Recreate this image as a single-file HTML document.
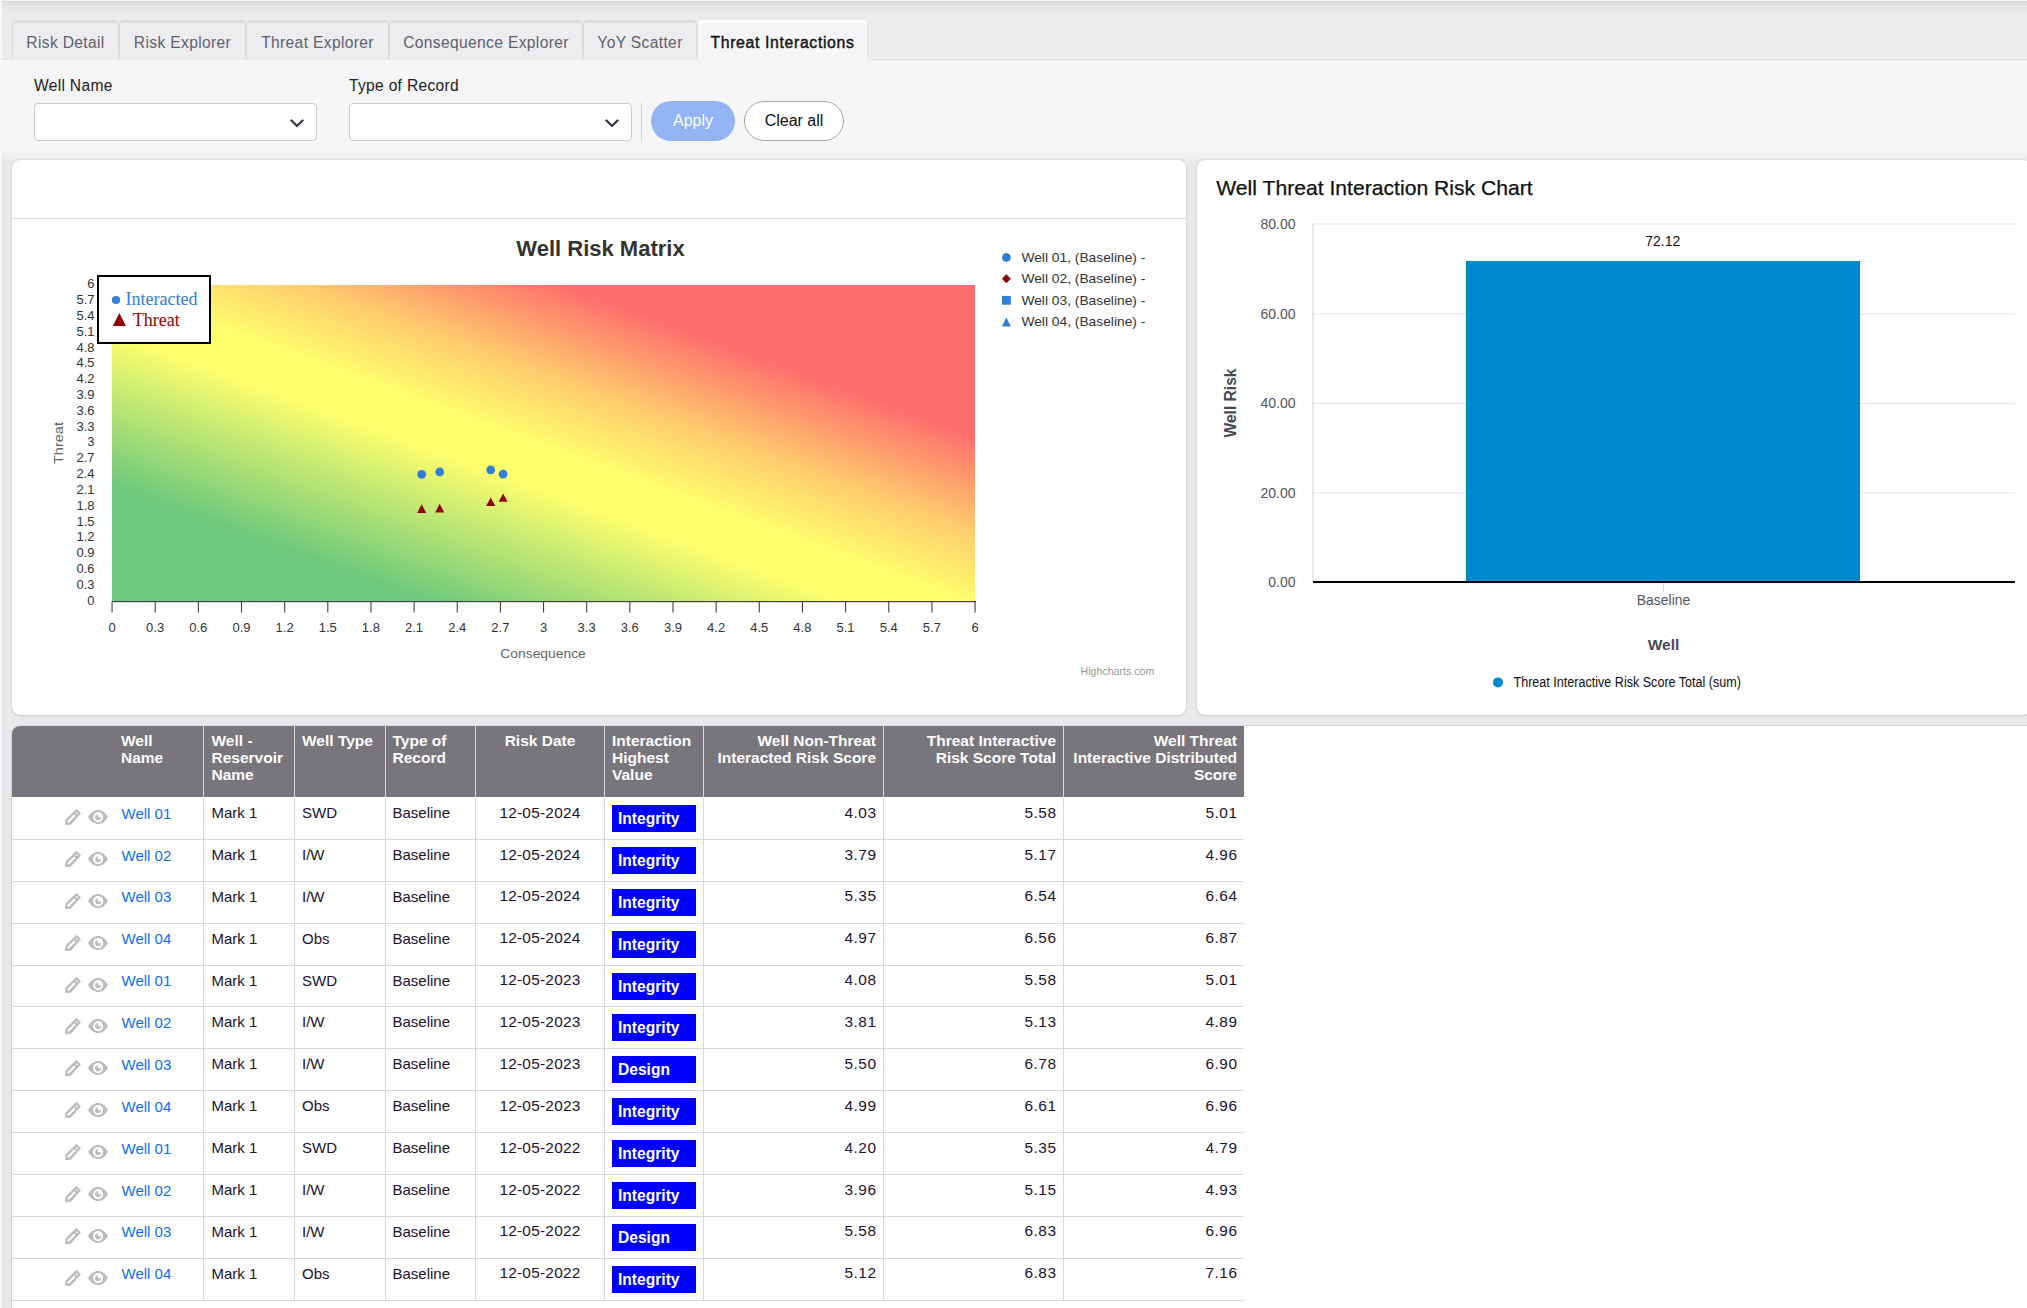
<!DOCTYPE html>
<html><head><meta charset="utf-8">
<style>
*{box-sizing:border-box;margin:0;padding:0}
html,body{width:2027px;height:1308px;overflow:hidden;background:#f7f7f9;font-family:"Liberation Sans",sans-serif;}
#app{position:absolute;left:2px;top:1px;width:2025px;height:1307px;background:linear-gradient(to right,#e2e2e5 0,#eaeaec 3px,#e9e9eb 10px);overflow:hidden}
#tabbar{position:absolute;left:0;top:0;width:2025px;height:59px;background:linear-gradient(#dbdbde 0,#e6e6e8 5px,#ebebed 14px,#ececee 59px);border-bottom:1px solid #d6d6d9}
.tab{position:absolute;top:19px;height:40px;border:1px solid #d9d9dc;border-top:3px solid #dddcdf;border-bottom:none;border-radius:5px 5px 0 0;background:#ededef;color:#615e71;font-size:15.6px;letter-spacing:.35px;line-height:39px;text-align:center;white-space:nowrap;background:linear-gradient(#ededef 0,#ededef 30px,#e6e6e9 37px)}
.tab.active{background:#f6f6f8;font-size:15.8px;letter-spacing:.65px;-webkit-text-stroke:.4px #111;border-color:#fff #e3e3e6 #f6f6f8;color:#111;height:41px;line-height:40px}
#filter{position:absolute;left:0;top:59px;width:2025px;height:92px;background:#f6f6f8;box-shadow:0 2px 8px 2px #f6f6f8}
.lbl{position:absolute;font-size:15.6px;letter-spacing:.3px;color:#222;white-space:nowrap}
.sel{position:absolute;top:43px;width:283px;height:38px;border:1px solid #cbcbd1;border-radius:4px;background:#fff}
.sel svg{position:absolute;right:12px;top:15px}
.btn{position:absolute;top:41px;height:40px;border-radius:20px;font-size:16px;line-height:38px;text-align:center}
.panel{position:absolute;background:#fff;border-radius:8px;box-shadow:0 0 2px rgba(0,0,0,.16),0 1px 2px rgba(0,0,0,.10)}

.thead{position:relative;background:#78757d;border-radius:8px 0 0 0}
.th{position:absolute;top:6px;color:#fff;font-weight:bold;font-size:15.5px;line-height:17px;white-space:nowrap}
.vb{position:absolute;top:0;width:1px;height:72px;background:#d9d9dc}
.tr{position:relative;height:41.89px;border-bottom:1px solid #d9d9dc;width:1232px}
.sp{height:1px}
.vb2{position:absolute;top:0;width:1px;height:42px;background:#d9d9dc}
.td{position:absolute;top:6px;font-size:15px;line-height:18px;color:#1c1230;white-space:nowrap}
.num{font-size:15.4px;top:5.7px;letter-spacing:.55px;margin-right:-.55px}
.dt{font-size:15.4px;top:5.7px;letter-spacing:.25px}
.lk{color:#0d6efd;top:6.7px}
.ic{position:absolute}
.bd{position:absolute;left:600px;top:7px;width:84px;height:27px;background:#0000ff;color:#fff;font-weight:bold;font-size:15.6px;line-height:28px;padding-left:6px}
</style></head><body>
<div id="app">
<div id="tabbar">
<div class="tab" style="left:10px;width:107px">Risk Detail</div>
<div class="tab" style="left:117px;width:127px">Risk Explorer</div>
<div class="tab" style="left:244px;width:143px">Threat Explorer</div>
<div class="tab" style="left:387px;width:194px">Consequence Explorer</div>
<div class="tab" style="left:581px;width:114px">YoY Scatter</div>
<div class="tab active" style="left:695px;width:171px">Threat Interactions</div>
</div>
<div id="filter">
<div class="lbl" style="left:32px;top:17px">Well Name</div>
<div class="sel" style="left:32px"><svg width="14" height="9" viewBox="0 0 14 9"><path d="M1.5 1.5 L7 7 L12.5 1.5" fill="none" stroke="#3b3944" stroke-width="2.4" stroke-linecap="round" stroke-linejoin="round"/></svg></div>
<div class="lbl" style="left:347px;top:17px">Type of Record</div>
<div class="sel" style="left:347px"><svg width="14" height="9" viewBox="0 0 14 9"><path d="M1.5 1.5 L7 7 L12.5 1.5" fill="none" stroke="#3b3944" stroke-width="2.4" stroke-linecap="round" stroke-linejoin="round"/></svg></div>
<div style="position:absolute;left:639px;top:43px;width:1px;height:38px;background:#d0d0d4"></div>
<div class="btn" style="left:649px;width:84px;background:#93b4f4;color:#fff;line-height:40px">Apply</div>
<div class="btn" style="left:742px;width:100px;background:#fff;border:1px solid #a8a8ae;color:#111;line-height:38px">Clear all</div>
</div>
<div class="panel" style="left:10px;top:159px;width:1174px;height:555px">
<div style="position:absolute;left:0;top:58px;width:1174px;height:1px;background:#dcdce0"></div>
<svg width="1174" height="555" viewBox="0 0 1174 555" style="position:absolute;left:0;top:0;font-family:'Liberation Sans',sans-serif">
<defs><linearGradient id="rg" x1="0" y1="1" x2="1" y2="0"><stop offset="0" stop-color="#6ec87d"/><stop offset="0.183" stop-color="#6ec87d"/><stop offset="0.428" stop-color="#ffff6e"/><stop offset="0.49" stop-color="#ffff6e"/><stop offset="0.61" stop-color="#ffcc6e"/><stop offset="0.76" stop-color="#ff6e6e"/><stop offset="1" stop-color="#ff6e6e"/></linearGradient></defs>
<rect x="100" y="125" width="863" height="316.5" fill="url(#rg)"/>
<text x="588.5" y="96" text-anchor="middle" font-size="22" font-weight="bold" fill="#333">Well Risk Matrix</text>
<rect x="100" y="441" width="864" height="1.2" fill="#444"/>
<rect x="99.50" y="442" width="1.1" height="10.5" fill="#444"/>
<text x="100.00" y="471.5" text-anchor="middle" font-size="13" fill="#333">0</text>
<text x="82.5" y="444.70" text-anchor="end" font-size="13" fill="#333">0</text>
<rect x="142.65" y="442" width="1.1" height="10.5" fill="#444"/>
<text x="143.15" y="471.5" text-anchor="middle" font-size="13" fill="#333">0.3</text>
<text x="82.5" y="428.87" text-anchor="end" font-size="13" fill="#333">0.3</text>
<rect x="185.80" y="442" width="1.1" height="10.5" fill="#444"/>
<text x="186.30" y="471.5" text-anchor="middle" font-size="13" fill="#333">0.6</text>
<text x="82.5" y="413.05" text-anchor="end" font-size="13" fill="#333">0.6</text>
<rect x="228.95" y="442" width="1.1" height="10.5" fill="#444"/>
<text x="229.45" y="471.5" text-anchor="middle" font-size="13" fill="#333">0.9</text>
<text x="82.5" y="397.22" text-anchor="end" font-size="13" fill="#333">0.9</text>
<rect x="272.10" y="442" width="1.1" height="10.5" fill="#444"/>
<text x="272.60" y="471.5" text-anchor="middle" font-size="13" fill="#333">1.2</text>
<text x="82.5" y="381.40" text-anchor="end" font-size="13" fill="#333">1.2</text>
<rect x="315.25" y="442" width="1.1" height="10.5" fill="#444"/>
<text x="315.75" y="471.5" text-anchor="middle" font-size="13" fill="#333">1.5</text>
<text x="82.5" y="365.58" text-anchor="end" font-size="13" fill="#333">1.5</text>
<rect x="358.40" y="442" width="1.1" height="10.5" fill="#444"/>
<text x="358.90" y="471.5" text-anchor="middle" font-size="13" fill="#333">1.8</text>
<text x="82.5" y="349.75" text-anchor="end" font-size="13" fill="#333">1.8</text>
<rect x="401.55" y="442" width="1.1" height="10.5" fill="#444"/>
<text x="402.05" y="471.5" text-anchor="middle" font-size="13" fill="#333">2.1</text>
<text x="82.5" y="333.93" text-anchor="end" font-size="13" fill="#333">2.1</text>
<rect x="444.70" y="442" width="1.1" height="10.5" fill="#444"/>
<text x="445.20" y="471.5" text-anchor="middle" font-size="13" fill="#333">2.4</text>
<text x="82.5" y="318.10" text-anchor="end" font-size="13" fill="#333">2.4</text>
<rect x="487.85" y="442" width="1.1" height="10.5" fill="#444"/>
<text x="488.35" y="471.5" text-anchor="middle" font-size="13" fill="#333">2.7</text>
<text x="82.5" y="302.27" text-anchor="end" font-size="13" fill="#333">2.7</text>
<rect x="531.00" y="442" width="1.1" height="10.5" fill="#444"/>
<text x="531.50" y="471.5" text-anchor="middle" font-size="13" fill="#333">3</text>
<text x="82.5" y="286.45" text-anchor="end" font-size="13" fill="#333">3</text>
<rect x="574.15" y="442" width="1.1" height="10.5" fill="#444"/>
<text x="574.65" y="471.5" text-anchor="middle" font-size="13" fill="#333">3.3</text>
<text x="82.5" y="270.63" text-anchor="end" font-size="13" fill="#333">3.3</text>
<rect x="617.30" y="442" width="1.1" height="10.5" fill="#444"/>
<text x="617.80" y="471.5" text-anchor="middle" font-size="13" fill="#333">3.6</text>
<text x="82.5" y="254.80" text-anchor="end" font-size="13" fill="#333">3.6</text>
<rect x="660.45" y="442" width="1.1" height="10.5" fill="#444"/>
<text x="660.95" y="471.5" text-anchor="middle" font-size="13" fill="#333">3.9</text>
<text x="82.5" y="238.97" text-anchor="end" font-size="13" fill="#333">3.9</text>
<rect x="703.60" y="442" width="1.1" height="10.5" fill="#444"/>
<text x="704.10" y="471.5" text-anchor="middle" font-size="13" fill="#333">4.2</text>
<text x="82.5" y="223.15" text-anchor="end" font-size="13" fill="#333">4.2</text>
<rect x="746.75" y="442" width="1.1" height="10.5" fill="#444"/>
<text x="747.25" y="471.5" text-anchor="middle" font-size="13" fill="#333">4.5</text>
<text x="82.5" y="207.32" text-anchor="end" font-size="13" fill="#333">4.5</text>
<rect x="789.90" y="442" width="1.1" height="10.5" fill="#444"/>
<text x="790.40" y="471.5" text-anchor="middle" font-size="13" fill="#333">4.8</text>
<text x="82.5" y="191.50" text-anchor="end" font-size="13" fill="#333">4.8</text>
<rect x="833.05" y="442" width="1.1" height="10.5" fill="#444"/>
<text x="833.55" y="471.5" text-anchor="middle" font-size="13" fill="#333">5.1</text>
<text x="82.5" y="175.68" text-anchor="end" font-size="13" fill="#333">5.1</text>
<rect x="876.20" y="442" width="1.1" height="10.5" fill="#444"/>
<text x="876.70" y="471.5" text-anchor="middle" font-size="13" fill="#333">5.4</text>
<text x="82.5" y="159.85" text-anchor="end" font-size="13" fill="#333">5.4</text>
<rect x="919.35" y="442" width="1.1" height="10.5" fill="#444"/>
<text x="919.85" y="471.5" text-anchor="middle" font-size="13" fill="#333">5.7</text>
<text x="82.5" y="144.02" text-anchor="end" font-size="13" fill="#333">5.7</text>
<rect x="962.50" y="442" width="1.1" height="10.5" fill="#444"/>
<text x="963.00" y="471.5" text-anchor="middle" font-size="13" fill="#333">6</text>
<text x="82.5" y="128.20" text-anchor="end" font-size="13" fill="#333">6</text>
<text x="488.3" y="497.7" font-size="13.5" fill="#666" textLength="85.5" lengthAdjust="spacingAndGlyphs">Consequence</text>
<text transform="translate(50.8,304) rotate(-90)" font-size="13.5" fill="#666" textLength="42" lengthAdjust="spacingAndGlyphs">Threat</text>
<circle cx="409.7" cy="314.3" r="4.4" fill="#2f7ed8"/>
<circle cx="427.7" cy="312" r="4.4" fill="#2f7ed8"/>
<circle cx="478.7" cy="309.8" r="4.4" fill="#2f7ed8"/>
<circle cx="491.1" cy="314.2" r="4.4" fill="#2f7ed8"/>
<path d="M409.7 344.3 L414.2 353 L405.2 353 Z" fill="#910000"/>
<path d="M427.7 343.8 L432.2 352.4 L423.2 352.4 Z" fill="#910000"/>
<path d="M478.7 337.6 L483.2 346 L474.2 346 Z" fill="#910000"/>
<path d="M491.1 333.4 L495.6 341.8 L486.6 341.8 Z" fill="#910000"/>
<circle cx="994.4" cy="97.5" r="4.4" fill="#2f7ed8"/>
<path d="M994.4 114.3 L998.9 118.8 L994.4 123.3 L989.9 118.8 Z" fill="#910000"/>
<rect x="990.0" y="135.9" width="8.8" height="8.8" fill="#2f7ed8"/>
<path d="M994.4 157.5 L998.9 166.5 L989.9 166.5 Z" fill="#2f7ed8"/>
<text x="1009.4" y="101.80" font-size="13.3" fill="#333" textLength="124" lengthAdjust="spacingAndGlyphs">Well 01, (Baseline) -</text>
<text x="1009.4" y="123.10" font-size="13.3" fill="#333" textLength="124" lengthAdjust="spacingAndGlyphs">Well 02, (Baseline) -</text>
<text x="1009.4" y="144.60" font-size="13.3" fill="#333" textLength="124" lengthAdjust="spacingAndGlyphs">Well 03, (Baseline) -</text>
<text x="1009.4" y="166.30" font-size="13.3" fill="#333" textLength="124" lengthAdjust="spacingAndGlyphs">Well 04, (Baseline) -</text>
<text x="1068.6" y="514.9" font-size="10.5" fill="#999" textLength="73.7" lengthAdjust="spacingAndGlyphs">Highcharts.com</text>
<rect x="86" y="116" width="112" height="67" fill="#fff" stroke="#000" stroke-width="2"/>
<circle cx="104" cy="140" r="4.1" fill="#2f7ed8"/>
<text x="113.5" y="145" font-size="18" font-family="'Liberation Serif',serif" fill="#2f7ed8">Interacted</text>
<path d="M107.4 153.1 L113.9 166 L100.9 166 Z" fill="#910000"/>
<text x="120.8" y="165.8" font-size="18" font-family="'Liberation Serif',serif" fill="#910000">Threat</text>
</svg></div>
<div class="panel" style="left:1195px;top:159px;width:834px;height:555px">
<svg width="834" height="555" viewBox="0 0 834 555" style="position:absolute;left:0;top:0;font-family:'Liberation Sans',sans-serif">
<text x="19.3" y="35.2" font-size="20.3" fill="#111" stroke="#111" stroke-width="0.25" textLength="316.4" lengthAdjust="spacingAndGlyphs">Well Threat Interaction Risk Chart</text>
<rect x="116" y="63.5" width="702" height="1" fill="#e3e3e6"/>
<rect x="116" y="153.5" width="702" height="1" fill="#e3e3e6"/>
<rect x="116" y="243.0" width="702" height="1" fill="#e3e3e6"/>
<rect x="116" y="332.5" width="702" height="1" fill="#e3e3e6"/>
<rect x="115.5" y="64" width="1" height="358" fill="#d4d4d8"/>
<text x="98.5" y="68.80" text-anchor="end" font-size="14" fill="#55555f">80.00</text>
<text x="98.5" y="158.80" text-anchor="end" font-size="14" fill="#55555f">60.00</text>
<text x="98.5" y="248.30" text-anchor="end" font-size="14" fill="#55555f">40.00</text>
<text x="98.5" y="337.80" text-anchor="end" font-size="14" fill="#55555f">20.00</text>
<text x="98.5" y="426.80" text-anchor="end" font-size="14" fill="#55555f">0.00</text>
<rect x="269" y="101" width="394" height="321" fill="#0088ce"/>
<rect x="116" y="421" width="702" height="2" fill="#000"/>
<rect x="466" y="423" width="1" height="9" fill="#d5daee"/>
<text x="465.7" y="86" text-anchor="middle" font-size="14" fill="#111">72.12</text>
<text x="466.5" y="444.8" text-anchor="middle" font-size="14" fill="#55555f">Baseline</text>
<text x="466.5" y="489.5" text-anchor="middle" font-size="15.5" font-weight="bold" fill="#4a4a55">Well</text>
<text transform="translate(38.5,243) rotate(-90)" text-anchor="middle" font-size="15.6" font-weight="bold" fill="#4a4a55">Well Risk</text>
<circle cx="301" cy="522.4" r="5" fill="#0088ce"/>
<text x="316.5" y="527.2" font-size="14" fill="#111" textLength="227.5" lengthAdjust="spacingAndGlyphs">Threat Interactive Risk Score Total (sum)</text>
</svg></div>
<div id="tblwrap" style="position:absolute;left:9px;top:724px;width:2025px;height:600px;background:#fff;border-top:1px solid #dcdcdf;border-left:1px solid #d4d4d8;border-radius:9px 0 0 0"></div>
<div id="tbl" style="position:absolute;left:10px;top:725px;width:1232px">
<div class="thead" style="height:71px;width:1232px">
<div class="th" style="left:109px;text-align:left">Well<br>Name</div>
<div class="th" style="left:199.5px;text-align:left">Well -<br>Reservoir<br>Name</div>
<div class="th" style="left:290px;text-align:left">Well Type</div>
<div class="th" style="left:380.5px;text-align:left">Type of<br>Record</div>
<div class="th" style="left:468px;width:120px;text-align:center">Risk Date</div>
<div class="th" style="left:600px;text-align:left">Interaction<br>Highest<br>Value</div>
<div class="th" style="right:368px;text-align:right">Well Non-Threat<br>Interacted Risk Score</div>
<div class="th" style="right:188px;text-align:right">Threat Interactive<br>Risk Score Total</div>
<div class="th" style="right:7px;text-align:right">Well Threat<br>Interactive Distributed<br>Score</div>
<div class="vb" style="left:191px"></div>
<div class="vb" style="left:282px"></div>
<div class="vb" style="left:373px"></div>
<div class="vb" style="left:463px"></div>
<div class="vb" style="left:592px"></div>
<div class="vb" style="left:691px"></div>
<div class="vb" style="left:871px"></div>
<div class="vb" style="left:1051px"></div>
</div><div class="sp"></div>
<div class="tr"><svg class="ic" style="left:53px;top:11px" width="16" height="16" viewBox="0 0 16 16"><path d="M11.4 1.1 L14.7 4.4 L5.2 14.7 L1 15.1 L1.4 11.1 Z" fill="#bcbbc0" stroke="#bcbbc0" stroke-width="2" stroke-linejoin="round"/><path d="M3.5 12.5 L9.3 6.7" stroke="#fff" stroke-width="2.2" stroke-linecap="round" fill="none"/><path d="M11.9 3.1 L13 4.2 L11.9 5.3 L10.8 4.2 Z" fill="#fff"/><path d="M0.6 15.5 L1 12.2 L3.9 15.1 Z" fill="#bcbbc0"/></svg><svg class="ic" style="left:76px;top:12px" width="20" height="14" viewBox="0 0 20 14"><path d="M0 7 C3 2 6.5 0 10 0 C13.5 0 17 2 20 7 C17 12 13.5 14 10 14 C6.5 14 3 12 0 7 Z" fill="#bcbbc0"/><circle cx="10.1" cy="7.1" r="5.1" fill="#fff"/><circle cx="10.1" cy="7.3" r="2.95" fill="#bcbbc0"/><circle cx="11.5" cy="5.5" r="1.9" fill="#fff"/></svg><a class="td lk" style="left:109.5px">Well 01</a><div class="td" style="left:199.5px">Mark 1</div><div class="td" style="left:290px">SWD</div><div class="td" style="left:380.5px">Baseline</div><div class="td dt" style="left:468px;width:120px;text-align:center">12-05-2024</div><div class="bd">Integrity</div><div class="td num" style="right:368px">4.03</div><div class="td num" style="right:188px">5.58</div><div class="td num" style="right:7px">5.01</div><div class="vb2" style="left:191px"></div><div class="vb2" style="left:282px"></div><div class="vb2" style="left:373px"></div><div class="vb2" style="left:463px"></div><div class="vb2" style="left:592px"></div><div class="vb2" style="left:691px"></div><div class="vb2" style="left:871px"></div><div class="vb2" style="left:1051px"></div></div>
<div class="tr"><svg class="ic" style="left:53px;top:11px" width="16" height="16" viewBox="0 0 16 16"><path d="M11.4 1.1 L14.7 4.4 L5.2 14.7 L1 15.1 L1.4 11.1 Z" fill="#bcbbc0" stroke="#bcbbc0" stroke-width="2" stroke-linejoin="round"/><path d="M3.5 12.5 L9.3 6.7" stroke="#fff" stroke-width="2.2" stroke-linecap="round" fill="none"/><path d="M11.9 3.1 L13 4.2 L11.9 5.3 L10.8 4.2 Z" fill="#fff"/><path d="M0.6 15.5 L1 12.2 L3.9 15.1 Z" fill="#bcbbc0"/></svg><svg class="ic" style="left:76px;top:12px" width="20" height="14" viewBox="0 0 20 14"><path d="M0 7 C3 2 6.5 0 10 0 C13.5 0 17 2 20 7 C17 12 13.5 14 10 14 C6.5 14 3 12 0 7 Z" fill="#bcbbc0"/><circle cx="10.1" cy="7.1" r="5.1" fill="#fff"/><circle cx="10.1" cy="7.3" r="2.95" fill="#bcbbc0"/><circle cx="11.5" cy="5.5" r="1.9" fill="#fff"/></svg><a class="td lk" style="left:109.5px">Well 02</a><div class="td" style="left:199.5px">Mark 1</div><div class="td" style="left:290px">I/W</div><div class="td" style="left:380.5px">Baseline</div><div class="td dt" style="left:468px;width:120px;text-align:center">12-05-2024</div><div class="bd">Integrity</div><div class="td num" style="right:368px">3.79</div><div class="td num" style="right:188px">5.17</div><div class="td num" style="right:7px">4.96</div><div class="vb2" style="left:191px"></div><div class="vb2" style="left:282px"></div><div class="vb2" style="left:373px"></div><div class="vb2" style="left:463px"></div><div class="vb2" style="left:592px"></div><div class="vb2" style="left:691px"></div><div class="vb2" style="left:871px"></div><div class="vb2" style="left:1051px"></div></div>
<div class="tr"><svg class="ic" style="left:53px;top:11px" width="16" height="16" viewBox="0 0 16 16"><path d="M11.4 1.1 L14.7 4.4 L5.2 14.7 L1 15.1 L1.4 11.1 Z" fill="#bcbbc0" stroke="#bcbbc0" stroke-width="2" stroke-linejoin="round"/><path d="M3.5 12.5 L9.3 6.7" stroke="#fff" stroke-width="2.2" stroke-linecap="round" fill="none"/><path d="M11.9 3.1 L13 4.2 L11.9 5.3 L10.8 4.2 Z" fill="#fff"/><path d="M0.6 15.5 L1 12.2 L3.9 15.1 Z" fill="#bcbbc0"/></svg><svg class="ic" style="left:76px;top:12px" width="20" height="14" viewBox="0 0 20 14"><path d="M0 7 C3 2 6.5 0 10 0 C13.5 0 17 2 20 7 C17 12 13.5 14 10 14 C6.5 14 3 12 0 7 Z" fill="#bcbbc0"/><circle cx="10.1" cy="7.1" r="5.1" fill="#fff"/><circle cx="10.1" cy="7.3" r="2.95" fill="#bcbbc0"/><circle cx="11.5" cy="5.5" r="1.9" fill="#fff"/></svg><a class="td lk" style="left:109.5px">Well 03</a><div class="td" style="left:199.5px">Mark 1</div><div class="td" style="left:290px">I/W</div><div class="td" style="left:380.5px">Baseline</div><div class="td dt" style="left:468px;width:120px;text-align:center">12-05-2024</div><div class="bd">Integrity</div><div class="td num" style="right:368px">5.35</div><div class="td num" style="right:188px">6.54</div><div class="td num" style="right:7px">6.64</div><div class="vb2" style="left:191px"></div><div class="vb2" style="left:282px"></div><div class="vb2" style="left:373px"></div><div class="vb2" style="left:463px"></div><div class="vb2" style="left:592px"></div><div class="vb2" style="left:691px"></div><div class="vb2" style="left:871px"></div><div class="vb2" style="left:1051px"></div></div>
<div class="tr"><svg class="ic" style="left:53px;top:11px" width="16" height="16" viewBox="0 0 16 16"><path d="M11.4 1.1 L14.7 4.4 L5.2 14.7 L1 15.1 L1.4 11.1 Z" fill="#bcbbc0" stroke="#bcbbc0" stroke-width="2" stroke-linejoin="round"/><path d="M3.5 12.5 L9.3 6.7" stroke="#fff" stroke-width="2.2" stroke-linecap="round" fill="none"/><path d="M11.9 3.1 L13 4.2 L11.9 5.3 L10.8 4.2 Z" fill="#fff"/><path d="M0.6 15.5 L1 12.2 L3.9 15.1 Z" fill="#bcbbc0"/></svg><svg class="ic" style="left:76px;top:12px" width="20" height="14" viewBox="0 0 20 14"><path d="M0 7 C3 2 6.5 0 10 0 C13.5 0 17 2 20 7 C17 12 13.5 14 10 14 C6.5 14 3 12 0 7 Z" fill="#bcbbc0"/><circle cx="10.1" cy="7.1" r="5.1" fill="#fff"/><circle cx="10.1" cy="7.3" r="2.95" fill="#bcbbc0"/><circle cx="11.5" cy="5.5" r="1.9" fill="#fff"/></svg><a class="td lk" style="left:109.5px">Well 04</a><div class="td" style="left:199.5px">Mark 1</div><div class="td" style="left:290px">Obs</div><div class="td" style="left:380.5px">Baseline</div><div class="td dt" style="left:468px;width:120px;text-align:center">12-05-2024</div><div class="bd">Integrity</div><div class="td num" style="right:368px">4.97</div><div class="td num" style="right:188px">6.56</div><div class="td num" style="right:7px">6.87</div><div class="vb2" style="left:191px"></div><div class="vb2" style="left:282px"></div><div class="vb2" style="left:373px"></div><div class="vb2" style="left:463px"></div><div class="vb2" style="left:592px"></div><div class="vb2" style="left:691px"></div><div class="vb2" style="left:871px"></div><div class="vb2" style="left:1051px"></div></div>
<div class="tr"><svg class="ic" style="left:53px;top:11px" width="16" height="16" viewBox="0 0 16 16"><path d="M11.4 1.1 L14.7 4.4 L5.2 14.7 L1 15.1 L1.4 11.1 Z" fill="#bcbbc0" stroke="#bcbbc0" stroke-width="2" stroke-linejoin="round"/><path d="M3.5 12.5 L9.3 6.7" stroke="#fff" stroke-width="2.2" stroke-linecap="round" fill="none"/><path d="M11.9 3.1 L13 4.2 L11.9 5.3 L10.8 4.2 Z" fill="#fff"/><path d="M0.6 15.5 L1 12.2 L3.9 15.1 Z" fill="#bcbbc0"/></svg><svg class="ic" style="left:76px;top:12px" width="20" height="14" viewBox="0 0 20 14"><path d="M0 7 C3 2 6.5 0 10 0 C13.5 0 17 2 20 7 C17 12 13.5 14 10 14 C6.5 14 3 12 0 7 Z" fill="#bcbbc0"/><circle cx="10.1" cy="7.1" r="5.1" fill="#fff"/><circle cx="10.1" cy="7.3" r="2.95" fill="#bcbbc0"/><circle cx="11.5" cy="5.5" r="1.9" fill="#fff"/></svg><a class="td lk" style="left:109.5px">Well 01</a><div class="td" style="left:199.5px">Mark 1</div><div class="td" style="left:290px">SWD</div><div class="td" style="left:380.5px">Baseline</div><div class="td dt" style="left:468px;width:120px;text-align:center">12-05-2023</div><div class="bd">Integrity</div><div class="td num" style="right:368px">4.08</div><div class="td num" style="right:188px">5.58</div><div class="td num" style="right:7px">5.01</div><div class="vb2" style="left:191px"></div><div class="vb2" style="left:282px"></div><div class="vb2" style="left:373px"></div><div class="vb2" style="left:463px"></div><div class="vb2" style="left:592px"></div><div class="vb2" style="left:691px"></div><div class="vb2" style="left:871px"></div><div class="vb2" style="left:1051px"></div></div>
<div class="tr"><svg class="ic" style="left:53px;top:11px" width="16" height="16" viewBox="0 0 16 16"><path d="M11.4 1.1 L14.7 4.4 L5.2 14.7 L1 15.1 L1.4 11.1 Z" fill="#bcbbc0" stroke="#bcbbc0" stroke-width="2" stroke-linejoin="round"/><path d="M3.5 12.5 L9.3 6.7" stroke="#fff" stroke-width="2.2" stroke-linecap="round" fill="none"/><path d="M11.9 3.1 L13 4.2 L11.9 5.3 L10.8 4.2 Z" fill="#fff"/><path d="M0.6 15.5 L1 12.2 L3.9 15.1 Z" fill="#bcbbc0"/></svg><svg class="ic" style="left:76px;top:12px" width="20" height="14" viewBox="0 0 20 14"><path d="M0 7 C3 2 6.5 0 10 0 C13.5 0 17 2 20 7 C17 12 13.5 14 10 14 C6.5 14 3 12 0 7 Z" fill="#bcbbc0"/><circle cx="10.1" cy="7.1" r="5.1" fill="#fff"/><circle cx="10.1" cy="7.3" r="2.95" fill="#bcbbc0"/><circle cx="11.5" cy="5.5" r="1.9" fill="#fff"/></svg><a class="td lk" style="left:109.5px">Well 02</a><div class="td" style="left:199.5px">Mark 1</div><div class="td" style="left:290px">I/W</div><div class="td" style="left:380.5px">Baseline</div><div class="td dt" style="left:468px;width:120px;text-align:center">12-05-2023</div><div class="bd">Integrity</div><div class="td num" style="right:368px">3.81</div><div class="td num" style="right:188px">5.13</div><div class="td num" style="right:7px">4.89</div><div class="vb2" style="left:191px"></div><div class="vb2" style="left:282px"></div><div class="vb2" style="left:373px"></div><div class="vb2" style="left:463px"></div><div class="vb2" style="left:592px"></div><div class="vb2" style="left:691px"></div><div class="vb2" style="left:871px"></div><div class="vb2" style="left:1051px"></div></div>
<div class="tr"><svg class="ic" style="left:53px;top:11px" width="16" height="16" viewBox="0 0 16 16"><path d="M11.4 1.1 L14.7 4.4 L5.2 14.7 L1 15.1 L1.4 11.1 Z" fill="#bcbbc0" stroke="#bcbbc0" stroke-width="2" stroke-linejoin="round"/><path d="M3.5 12.5 L9.3 6.7" stroke="#fff" stroke-width="2.2" stroke-linecap="round" fill="none"/><path d="M11.9 3.1 L13 4.2 L11.9 5.3 L10.8 4.2 Z" fill="#fff"/><path d="M0.6 15.5 L1 12.2 L3.9 15.1 Z" fill="#bcbbc0"/></svg><svg class="ic" style="left:76px;top:12px" width="20" height="14" viewBox="0 0 20 14"><path d="M0 7 C3 2 6.5 0 10 0 C13.5 0 17 2 20 7 C17 12 13.5 14 10 14 C6.5 14 3 12 0 7 Z" fill="#bcbbc0"/><circle cx="10.1" cy="7.1" r="5.1" fill="#fff"/><circle cx="10.1" cy="7.3" r="2.95" fill="#bcbbc0"/><circle cx="11.5" cy="5.5" r="1.9" fill="#fff"/></svg><a class="td lk" style="left:109.5px">Well 03</a><div class="td" style="left:199.5px">Mark 1</div><div class="td" style="left:290px">I/W</div><div class="td" style="left:380.5px">Baseline</div><div class="td dt" style="left:468px;width:120px;text-align:center">12-05-2023</div><div class="bd">Design</div><div class="td num" style="right:368px">5.50</div><div class="td num" style="right:188px">6.78</div><div class="td num" style="right:7px">6.90</div><div class="vb2" style="left:191px"></div><div class="vb2" style="left:282px"></div><div class="vb2" style="left:373px"></div><div class="vb2" style="left:463px"></div><div class="vb2" style="left:592px"></div><div class="vb2" style="left:691px"></div><div class="vb2" style="left:871px"></div><div class="vb2" style="left:1051px"></div></div>
<div class="tr"><svg class="ic" style="left:53px;top:11px" width="16" height="16" viewBox="0 0 16 16"><path d="M11.4 1.1 L14.7 4.4 L5.2 14.7 L1 15.1 L1.4 11.1 Z" fill="#bcbbc0" stroke="#bcbbc0" stroke-width="2" stroke-linejoin="round"/><path d="M3.5 12.5 L9.3 6.7" stroke="#fff" stroke-width="2.2" stroke-linecap="round" fill="none"/><path d="M11.9 3.1 L13 4.2 L11.9 5.3 L10.8 4.2 Z" fill="#fff"/><path d="M0.6 15.5 L1 12.2 L3.9 15.1 Z" fill="#bcbbc0"/></svg><svg class="ic" style="left:76px;top:12px" width="20" height="14" viewBox="0 0 20 14"><path d="M0 7 C3 2 6.5 0 10 0 C13.5 0 17 2 20 7 C17 12 13.5 14 10 14 C6.5 14 3 12 0 7 Z" fill="#bcbbc0"/><circle cx="10.1" cy="7.1" r="5.1" fill="#fff"/><circle cx="10.1" cy="7.3" r="2.95" fill="#bcbbc0"/><circle cx="11.5" cy="5.5" r="1.9" fill="#fff"/></svg><a class="td lk" style="left:109.5px">Well 04</a><div class="td" style="left:199.5px">Mark 1</div><div class="td" style="left:290px">Obs</div><div class="td" style="left:380.5px">Baseline</div><div class="td dt" style="left:468px;width:120px;text-align:center">12-05-2023</div><div class="bd">Integrity</div><div class="td num" style="right:368px">4.99</div><div class="td num" style="right:188px">6.61</div><div class="td num" style="right:7px">6.96</div><div class="vb2" style="left:191px"></div><div class="vb2" style="left:282px"></div><div class="vb2" style="left:373px"></div><div class="vb2" style="left:463px"></div><div class="vb2" style="left:592px"></div><div class="vb2" style="left:691px"></div><div class="vb2" style="left:871px"></div><div class="vb2" style="left:1051px"></div></div>
<div class="tr"><svg class="ic" style="left:53px;top:11px" width="16" height="16" viewBox="0 0 16 16"><path d="M11.4 1.1 L14.7 4.4 L5.2 14.7 L1 15.1 L1.4 11.1 Z" fill="#bcbbc0" stroke="#bcbbc0" stroke-width="2" stroke-linejoin="round"/><path d="M3.5 12.5 L9.3 6.7" stroke="#fff" stroke-width="2.2" stroke-linecap="round" fill="none"/><path d="M11.9 3.1 L13 4.2 L11.9 5.3 L10.8 4.2 Z" fill="#fff"/><path d="M0.6 15.5 L1 12.2 L3.9 15.1 Z" fill="#bcbbc0"/></svg><svg class="ic" style="left:76px;top:12px" width="20" height="14" viewBox="0 0 20 14"><path d="M0 7 C3 2 6.5 0 10 0 C13.5 0 17 2 20 7 C17 12 13.5 14 10 14 C6.5 14 3 12 0 7 Z" fill="#bcbbc0"/><circle cx="10.1" cy="7.1" r="5.1" fill="#fff"/><circle cx="10.1" cy="7.3" r="2.95" fill="#bcbbc0"/><circle cx="11.5" cy="5.5" r="1.9" fill="#fff"/></svg><a class="td lk" style="left:109.5px">Well 01</a><div class="td" style="left:199.5px">Mark 1</div><div class="td" style="left:290px">SWD</div><div class="td" style="left:380.5px">Baseline</div><div class="td dt" style="left:468px;width:120px;text-align:center">12-05-2022</div><div class="bd">Integrity</div><div class="td num" style="right:368px">4.20</div><div class="td num" style="right:188px">5.35</div><div class="td num" style="right:7px">4.79</div><div class="vb2" style="left:191px"></div><div class="vb2" style="left:282px"></div><div class="vb2" style="left:373px"></div><div class="vb2" style="left:463px"></div><div class="vb2" style="left:592px"></div><div class="vb2" style="left:691px"></div><div class="vb2" style="left:871px"></div><div class="vb2" style="left:1051px"></div></div>
<div class="tr"><svg class="ic" style="left:53px;top:11px" width="16" height="16" viewBox="0 0 16 16"><path d="M11.4 1.1 L14.7 4.4 L5.2 14.7 L1 15.1 L1.4 11.1 Z" fill="#bcbbc0" stroke="#bcbbc0" stroke-width="2" stroke-linejoin="round"/><path d="M3.5 12.5 L9.3 6.7" stroke="#fff" stroke-width="2.2" stroke-linecap="round" fill="none"/><path d="M11.9 3.1 L13 4.2 L11.9 5.3 L10.8 4.2 Z" fill="#fff"/><path d="M0.6 15.5 L1 12.2 L3.9 15.1 Z" fill="#bcbbc0"/></svg><svg class="ic" style="left:76px;top:12px" width="20" height="14" viewBox="0 0 20 14"><path d="M0 7 C3 2 6.5 0 10 0 C13.5 0 17 2 20 7 C17 12 13.5 14 10 14 C6.5 14 3 12 0 7 Z" fill="#bcbbc0"/><circle cx="10.1" cy="7.1" r="5.1" fill="#fff"/><circle cx="10.1" cy="7.3" r="2.95" fill="#bcbbc0"/><circle cx="11.5" cy="5.5" r="1.9" fill="#fff"/></svg><a class="td lk" style="left:109.5px">Well 02</a><div class="td" style="left:199.5px">Mark 1</div><div class="td" style="left:290px">I/W</div><div class="td" style="left:380.5px">Baseline</div><div class="td dt" style="left:468px;width:120px;text-align:center">12-05-2022</div><div class="bd">Integrity</div><div class="td num" style="right:368px">3.96</div><div class="td num" style="right:188px">5.15</div><div class="td num" style="right:7px">4.93</div><div class="vb2" style="left:191px"></div><div class="vb2" style="left:282px"></div><div class="vb2" style="left:373px"></div><div class="vb2" style="left:463px"></div><div class="vb2" style="left:592px"></div><div class="vb2" style="left:691px"></div><div class="vb2" style="left:871px"></div><div class="vb2" style="left:1051px"></div></div>
<div class="tr"><svg class="ic" style="left:53px;top:11px" width="16" height="16" viewBox="0 0 16 16"><path d="M11.4 1.1 L14.7 4.4 L5.2 14.7 L1 15.1 L1.4 11.1 Z" fill="#bcbbc0" stroke="#bcbbc0" stroke-width="2" stroke-linejoin="round"/><path d="M3.5 12.5 L9.3 6.7" stroke="#fff" stroke-width="2.2" stroke-linecap="round" fill="none"/><path d="M11.9 3.1 L13 4.2 L11.9 5.3 L10.8 4.2 Z" fill="#fff"/><path d="M0.6 15.5 L1 12.2 L3.9 15.1 Z" fill="#bcbbc0"/></svg><svg class="ic" style="left:76px;top:12px" width="20" height="14" viewBox="0 0 20 14"><path d="M0 7 C3 2 6.5 0 10 0 C13.5 0 17 2 20 7 C17 12 13.5 14 10 14 C6.5 14 3 12 0 7 Z" fill="#bcbbc0"/><circle cx="10.1" cy="7.1" r="5.1" fill="#fff"/><circle cx="10.1" cy="7.3" r="2.95" fill="#bcbbc0"/><circle cx="11.5" cy="5.5" r="1.9" fill="#fff"/></svg><a class="td lk" style="left:109.5px">Well 03</a><div class="td" style="left:199.5px">Mark 1</div><div class="td" style="left:290px">I/W</div><div class="td" style="left:380.5px">Baseline</div><div class="td dt" style="left:468px;width:120px;text-align:center">12-05-2022</div><div class="bd">Design</div><div class="td num" style="right:368px">5.58</div><div class="td num" style="right:188px">6.83</div><div class="td num" style="right:7px">6.96</div><div class="vb2" style="left:191px"></div><div class="vb2" style="left:282px"></div><div class="vb2" style="left:373px"></div><div class="vb2" style="left:463px"></div><div class="vb2" style="left:592px"></div><div class="vb2" style="left:691px"></div><div class="vb2" style="left:871px"></div><div class="vb2" style="left:1051px"></div></div>
<div class="tr"><svg class="ic" style="left:53px;top:11px" width="16" height="16" viewBox="0 0 16 16"><path d="M11.4 1.1 L14.7 4.4 L5.2 14.7 L1 15.1 L1.4 11.1 Z" fill="#bcbbc0" stroke="#bcbbc0" stroke-width="2" stroke-linejoin="round"/><path d="M3.5 12.5 L9.3 6.7" stroke="#fff" stroke-width="2.2" stroke-linecap="round" fill="none"/><path d="M11.9 3.1 L13 4.2 L11.9 5.3 L10.8 4.2 Z" fill="#fff"/><path d="M0.6 15.5 L1 12.2 L3.9 15.1 Z" fill="#bcbbc0"/></svg><svg class="ic" style="left:76px;top:12px" width="20" height="14" viewBox="0 0 20 14"><path d="M0 7 C3 2 6.5 0 10 0 C13.5 0 17 2 20 7 C17 12 13.5 14 10 14 C6.5 14 3 12 0 7 Z" fill="#bcbbc0"/><circle cx="10.1" cy="7.1" r="5.1" fill="#fff"/><circle cx="10.1" cy="7.3" r="2.95" fill="#bcbbc0"/><circle cx="11.5" cy="5.5" r="1.9" fill="#fff"/></svg><a class="td lk" style="left:109.5px">Well 04</a><div class="td" style="left:199.5px">Mark 1</div><div class="td" style="left:290px">Obs</div><div class="td" style="left:380.5px">Baseline</div><div class="td dt" style="left:468px;width:120px;text-align:center">12-05-2022</div><div class="bd">Integrity</div><div class="td num" style="right:368px">5.12</div><div class="td num" style="right:188px">6.83</div><div class="td num" style="right:7px">7.16</div><div class="vb2" style="left:191px"></div><div class="vb2" style="left:282px"></div><div class="vb2" style="left:373px"></div><div class="vb2" style="left:463px"></div><div class="vb2" style="left:592px"></div><div class="vb2" style="left:691px"></div><div class="vb2" style="left:871px"></div><div class="vb2" style="left:1051px"></div></div>
</div>
</div>
</body></html>
